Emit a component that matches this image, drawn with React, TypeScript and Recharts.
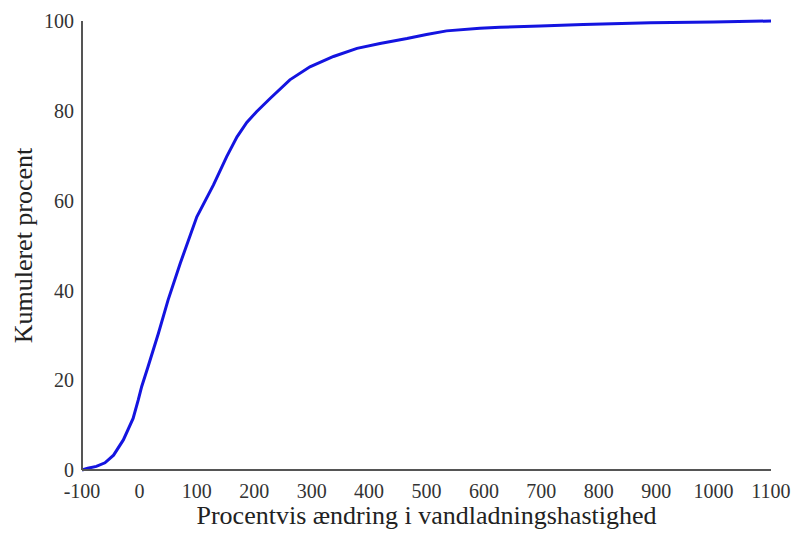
import { Line, LineChart, XAxis, YAxis } from 'recharts';

// Procentvis ændring (x) og kumuleret procent (y), aflæst fra kurven.
const changePct = [
  -100, -90, -75, -60, -45, -28, -11, -2, 4, 15, 33, 50, 71, 100, 129, 152,
  170, 187, 204, 228, 262, 297, 338, 379, 419, 466, 500, 535, 593, 628, 698,
  773, 890, 1000, 1100,
];
const cumulativePct = [
  0, 0.4, 0.8, 1.6, 3.3, 6.7, 11.5, 15.6, 18.6, 23, 30.4, 37.9, 46, 56.4, 63.5,
  69.8, 74.2, 77.4, 79.8, 82.8, 86.9, 89.8, 92.1, 93.9, 95, 96.1, 97, 97.8,
  98.4, 98.6, 98.9, 99.2, 99.6, 99.8, 100,
];
const xTicks = [-100, 0, 100, 200, 300, 400, 500, 600, 700, 800, 900, 1000, 1100];
const yTicks = [0, 20, 40, 60, 80, 100];

const data = changePct.map((x, i) => ({ x, y: cumulativePct[i] }));

const FONT = '"Liberation Serif", "Times New Roman", serif';
const tickStyle = { fontSize: 20, fill: '#333', fontFamily: FONT };

export default function App() {
  return (
    <div style={{ position: 'absolute', left: 0, top: 0, background: '#fff' }}>
      <LineChart
        width={795}
        height={533}
        data={data}
        margin={{ top: 21, right: 24, bottom: 0, left: 0 }}
      >
        <XAxis
          dataKey="x"
          type="number"
          domain={[-100, 1100]}
          ticks={xTicks}
          interval={0}
          height={63}
          tickLine={false}
          tickMargin={8}
          tick={tickStyle}
          axisLine={{ stroke: '#555', strokeWidth: 2 }}
          label={{
            value: 'Procentvis ændring i vandladningshastighed',
            position: 'insideBottom',
            offset: 9,
            style: { fontSize: 26, fill: '#222', fontFamily: FONT },
          }}
        />
        <YAxis
          type="number"
          domain={[0, 100]}
          ticks={yTicks}
          interval={0}
          width={82}
          tickLine={false}
          tickMargin={2}
          tick={tickStyle}
          axisLine={{ stroke: '#555', strokeWidth: 2 }}
          label={{
            value: 'Kumuleret procent',
            angle: -90,
            position: 'center',
            dx: -18,
            style: { fontSize: 26, fill: '#222', fontFamily: FONT, textAnchor: 'middle' },
          }}
        />
        <Line
          dataKey="y"
          type="linear"
          stroke="#1414e0"
          strokeWidth={3}
          dot={false}
          isAnimationActive={false}
        />
      </LineChart>
    </div>
  );
}
